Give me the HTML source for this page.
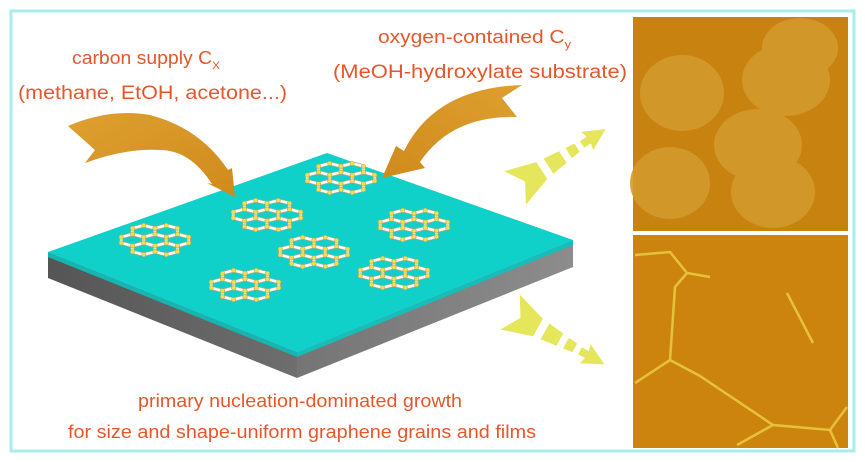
<!DOCTYPE html>
<html><head><meta charset="utf-8"><style>
html,body{margin:0;padding:0;background:#fff;width:865px;height:462px;overflow:hidden}
svg{display:block}
text{font-family:"Liberation Sans",sans-serif;fill:#e5572a}
</style></head><body>
<svg width="865" height="462" viewBox="0 0 865 462" xmlns="http://www.w3.org/2000/svg">
<defs>
<linearGradient id="g1" x1="0" y1="0" x2="1" y2="1"><stop offset="0" stop-color="#dea030"/><stop offset="1" stop-color="#d08a1c"/></linearGradient>
<linearGradient id="g2" x1="1" y1="0" x2="0" y2="1"><stop offset="0" stop-color="#dea030"/><stop offset="1" stop-color="#d08a1c"/></linearGradient>
<linearGradient id="side1" x1="0" y1="0" x2="1" y2="0"><stop offset="0" stop-color="#555"/><stop offset="1" stop-color="#6e6e6e"/></linearGradient>
<linearGradient id="side2" x1="0" y1="0" x2="1" y2="0"><stop offset="0" stop-color="#757575"/><stop offset="1" stop-color="#8c8c8c"/></linearGradient>
<path id="hex" d="M0,-5.85 L11.26,-2.93 L11.26,2.93 L0,5.85 L-11.26,2.93 L-11.26,-2.93 Z"/>
<g id="hexd">
 <use href="#hex" fill="none" stroke="#a8a890" stroke-width="4"/>
 <use href="#hex" fill="none" stroke="#fafaf6" stroke-width="2.6"/>
</g>
<g id="dots" fill="#ece05a" stroke="#b8a830" stroke-width="0.5">
 <circle cx="0" cy="-5.85" r="2.2"/><circle cx="11.26" cy="-2.93" r="2.2"/><circle cx="11.26" cy="2.93" r="2.2"/><circle cx="0" cy="5.85" r="2.2"/><circle cx="-11.26" cy="2.93" r="2.2"/><circle cx="-11.26" cy="-2.93" r="2.2"/>
</g>
<g id="flake">
 <use href="#hexd" x="0" y="0"/><use href="#hexd" x="22.5" y="0"/><use href="#hexd" x="-22.5" y="0"/>
 <use href="#hexd" x="11.26" y="8.78"/><use href="#hexd" x="-11.26" y="8.78"/><use href="#hexd" x="11.26" y="-8.78"/><use href="#hexd" x="-11.26" y="-8.78"/>
 <use href="#dots" x="22.5" y="0"/><use href="#dots" x="-22.5" y="0"/>
 <use href="#dots" x="11.26" y="8.78"/><use href="#dots" x="-11.26" y="8.78"/><use href="#dots" x="11.26" y="-8.78"/><use href="#dots" x="-11.26" y="-8.78"/>
</g>
<g id="yarrow" fill="#e6e65c">
 <polygon points="0,-20 32,-10 32,10 0,20 12,0"/>
 <polygon points="40,-9 57,-7 57,7 40,9"/>
 <polygon points="64,-6 74,-5 74,5 64,6"/>
 <polygon points="80,-4 88,-4 86,-11 108,0 86,11 88,4 80,4"/>
</g>
</defs>
<rect x="11" y="11" width="843" height="440" fill="none" stroke="#a6eeee" stroke-width="3"/>
<!-- slab -->
<polygon points="48,252 297,352 297,378 48,278" fill="url(#side1)"/>
<polygon points="297,352 573,240 573,267 297,378" fill="url(#side2)"/>
<polygon points="48,252 297,352 297,357 48,257" fill="#17b4b0"/>
<polygon points="297,352 573,240 573,245 297,357" fill="#18bcb8"/>
<polygon points="327,153 573,240 297,352 48,252" fill="#10d0ca"/>
<use href="#flake" x="155" y="240"/>
<use href="#flake" x="267" y="215"/>
<use href="#flake" x="341" y="178"/>
<use href="#flake" x="414" y="225"/>
<use href="#flake" x="314" y="252"/>
<use href="#flake" x="245" y="285"/>
<use href="#flake" x="394" y="273"/>
<!-- orange arrows -->
<path d="M68,126 Q110,108 150,115 Q200,128 228,170 L232,168 L235,197 L207,183 L212,184 Q190,150 160,150 Q125,148 85,163 L95,150 Z" fill="url(#g1)"/>
<path d="M522,85 L502,98 L517,117 Q452,115 420,162 L425,168 L382,178 L396,146 L404,151 Q435,88 522,85 Z" fill="url(#g2)"/>
<!-- yellow dashed arrows -->
<use href="#yarrow" transform="translate(515,188) rotate(-33)"/>
<use href="#yarrow" transform="translate(510,312) rotate(29)"/>
<!-- AFM images -->
<rect x="633" y="17" width="215" height="214" fill="#c8820f"/>
<g fill="#d49a2c" opacity="0.9">
<ellipse cx="682" cy="93" rx="42" ry="38"/>
<ellipse cx="786" cy="80" rx="44" ry="36"/>
<ellipse cx="800" cy="48" rx="38" ry="30"/>
<ellipse cx="758" cy="145" rx="44" ry="36"/>
<ellipse cx="670" cy="183" rx="40" ry="36"/>
<ellipse cx="773" cy="192" rx="42" ry="36"/>
</g>
<rect x="633" y="235" width="215" height="213" fill="#cc840f"/>
<g fill="none" stroke="#e6c23a" stroke-width="2.5">
<path d="M635,255 L670,252 L687,273 L710,277 M687,273 L675,287 L670,360 L635,383 M670,360 L700,376 L773,425 L830,430 L847,407 M773,425 L737,445 M830,430 L838,448 M787,293 L813,343"/>
</g>
<!-- text -->
<text x="72" y="64" font-size="18" textLength="148" lengthAdjust="spacingAndGlyphs">carbon supply C<tspan font-size="11" dy="5">X</tspan></text>
<text x="18" y="99" font-size="19" textLength="269" lengthAdjust="spacingAndGlyphs">(methane, EtOH, acetone...)</text>
<text x="378" y="43" font-size="18" textLength="193" lengthAdjust="spacingAndGlyphs">oxygen-contained C<tspan font-size="11" dy="5">y</tspan></text>
<text x="333" y="78" font-size="19" textLength="294" lengthAdjust="spacingAndGlyphs">(MeOH-hydroxylate substrate)</text>
<text x="138" y="407" font-size="18" textLength="324" lengthAdjust="spacingAndGlyphs">primary nucleation-dominated growth</text>
<text x="68" y="438" font-size="18" textLength="468" lengthAdjust="spacingAndGlyphs">for size and shape-uniform graphene grains and films</text>
</svg>
</body></html>
